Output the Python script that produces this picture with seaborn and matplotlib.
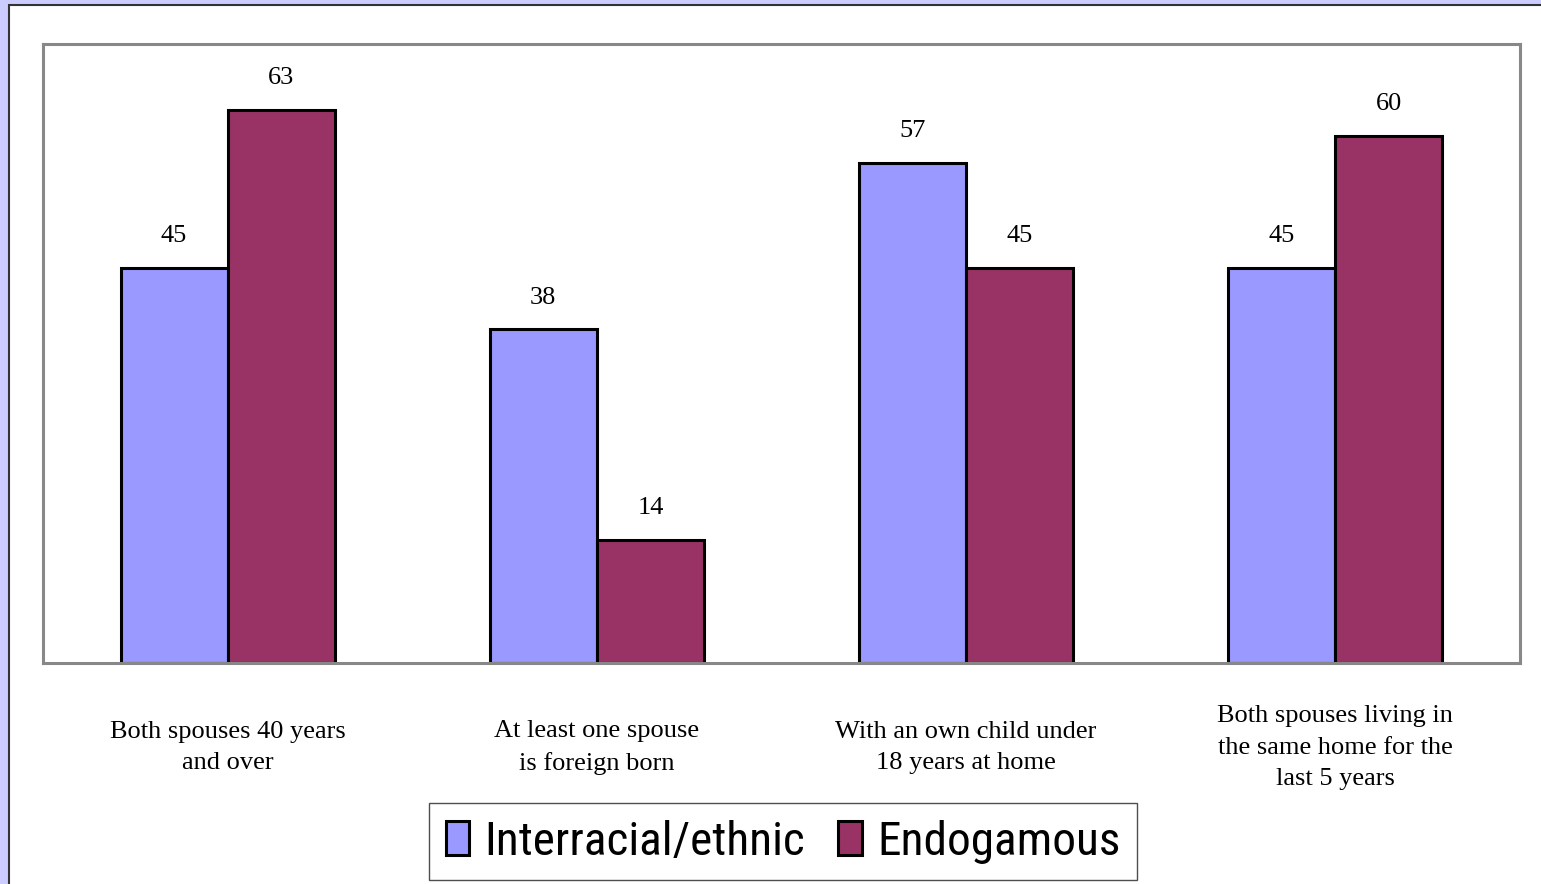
import pandas as pd
import matplotlib
matplotlib.use("Agg")
import matplotlib.pyplot as plt
from matplotlib.patches import Rectangle
import seaborn as sns

# Datos del grafico
categories = [
    "Both spouses 40 years\nand over",
    "At least one spouse\nis foreign born",
    "With an own child under\n18 years at home",
    "Both spouses living in\nthe same home for the\nlast 5 years",
]
groups = ["Interracial/ethnic", "Endogamous"]
interracial = [45, 38, 57, 45]
endogamous = [63, 14, 45, 60]
colors = ["#9999FF", "#993366"]

df = pd.DataFrame({
    "category": categories * 2,
    "group": [groups[0]] * 4 + [groups[1]] * 4,
    "value": interracial + endogamous,
})

sns.set_style("white")
plt.rcParams["font.family"] = ["Liberation Serif", "DejaVu Serif"]
plt.rcParams["text.color"] = "black"

fig = plt.figure(figsize=(15.41, 8.84), dpi=100)
fig.patch.set_facecolor("#CCCCFF")
# panel blanco con borde oscuro
fig.add_artist(Rectangle((9 / 1541, -0.01), 1.0, 1 - 5 / 884 + 0.01,
                         transform=fig.transFigure, facecolor="white",
                         edgecolor="#333333", linewidth=1.5, zorder=0))

ax = fig.add_axes([43 / 1541, 1 - 663 / 884, (1520 - 43) / 1541, (663 - 44) / 884])

sns.barplot(data=df, x="category", y="value", hue="group", hue_order=groups,
            palette=colors, width=0.58, gap=0, edgecolor="black", linewidth=2.2,
            saturation=1, errorbar=None, legend=False, ax=ax)

for cont in ax.containers:
    ax.bar_label(cont, fmt="%d", padding=15, fontsize=19, color="black")

ax.set_xlim(-0.5, 3.5)
ax.set_ylim(0, 70.5)
ax.set_yticks([])
ax.set_xticks([])
ax.set_xlabel("")
ax.set_ylabel("")
for sp in ax.spines.values():
    sp.set_visible(True)
    sp.set_color("#888888")
    sp.set_linewidth(2.2)

# etiquetas de categorias debajo del eje
for i, cat in enumerate(categories):
    ax.annotate(cat, xy=(i, 0), xycoords=("data", "axes fraction"),
                xytext=(0, -61), textcoords="offset points",
                ha="center", va="center", fontsize=19, linespacing=1.55, color="black")

handles = [Rectangle((0, 0), 1, 1, facecolor=c, edgecolor="black", linewidth=2.2)
           for c in colors]
leg = fig.legend(handles, groups, loc="center", bbox_to_anchor=(783 / 1541, 1 - 841.5 / 884),
                 ncol=2, frameon=True, fancybox=False, handlelength=0.5, handleheight=0.72,
                 handletextpad=0.32, columnspacing=0.7, borderpad=0.35,
                 prop={"family": ["Roboto Condensed", "PT Sans Narrow", "DejaVu Sans"],
                       "size": 34})
leg.get_frame().set_edgecolor("#222222")
leg.get_frame().set_linewidth(1.0)

fig.savefig("out.png", dpi=100, facecolor=fig.get_facecolor())
